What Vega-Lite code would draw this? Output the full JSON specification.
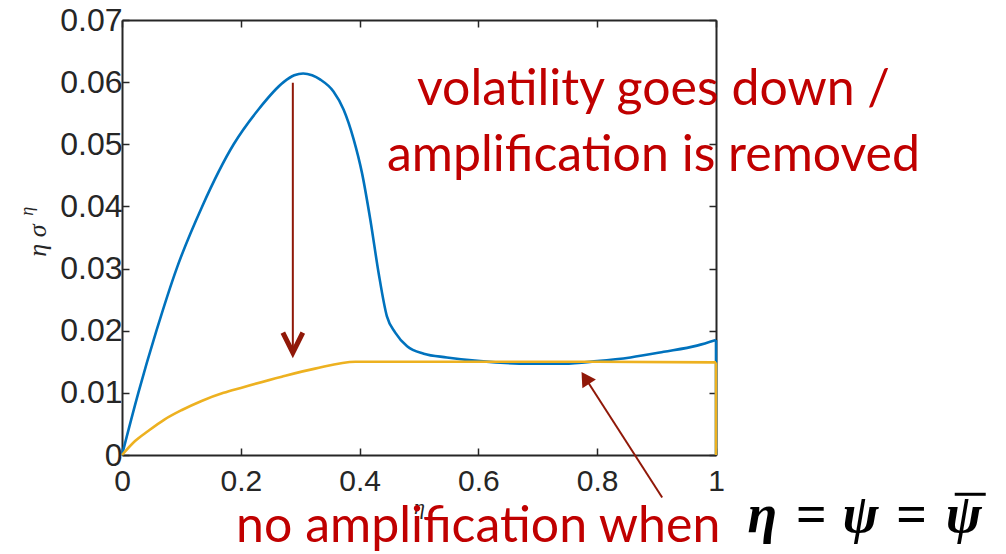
{
  "$schema": "https://vega.github.io/schema/vega-lite/v6.json",
  "width": 594,
  "height": 435,
  "autosize": "none",
  "padding": {"left": 122, "top": 20, "right": 290, "bottom": 99},
  "background": "white",
  "config": {"view": {"stroke": null}, "font": "Liberation Sans"},
  "datasets": {
    "blue": [
      {"x": 0, "y": 0},
      {"x": 0.0275, "y": 0.010},
      {"x": 0.058, "y": 0.020},
      {"x": 0.092, "y": 0.030},
      {"x": 0.135, "y": 0.040},
      {"x": 0.188, "y": 0.050},
      {"x": 0.2297, "y": 0.0556},
      {"x": 0.272, "y": 0.0600},
      {"x": 0.29, "y": 0.0611},
      {"x": 0.305, "y": 0.0614},
      {"x": 0.320, "y": 0.0611},
      {"x": 0.334, "y": 0.0604},
      {"x": 0.356, "y": 0.0585},
      {"x": 0.373, "y": 0.0556},
      {"x": 0.390, "y": 0.0508},
      {"x": 0.404, "y": 0.0454},
      {"x": 0.418, "y": 0.0379},
      {"x": 0.432, "y": 0.0293},
      {"x": 0.446, "y": 0.0223},
      {"x": 0.460, "y": 0.0197},
      {"x": 0.480, "y": 0.0175},
      {"x": 0.508, "y": 0.0163},
      {"x": 0.547, "y": 0.0157},
      {"x": 0.603, "y": 0.0151},
      {"x": 0.687, "y": 0.0147},
      {"x": 0.744, "y": 0.0147},
      {"x": 0.800, "y": 0.0151},
      {"x": 0.856, "y": 0.0157},
      {"x": 0.912, "y": 0.0166},
      {"x": 0.968, "y": 0.0176},
      {"x": 1.0, "y": 0.0185}
    ],
    "blueEnd": [{"x": 1.0, "y": 0.0185, "y2": 0}],
    "orange": [
      {"x": 0, "y": 0},
      {"x": 0.022, "y": 0.00225},
      {"x": 0.044, "y": 0.00386},
      {"x": 0.072, "y": 0.00574},
      {"x": 0.1, "y": 0.0072},
      {"x": 0.134, "y": 0.0087},
      {"x": 0.171, "y": 0.0100},
      {"x": 0.2, "y": 0.0108},
      {"x": 0.269, "y": 0.0126},
      {"x": 0.325, "y": 0.0139},
      {"x": 0.393, "y": 0.0150},
      {"x": 0.6, "y": 0.0150},
      {"x": 0.8, "y": 0.0150},
      {"x": 1.0, "y": 0.0149}
    ],
    "orangeEnd": [{"x": 1.0, "y": 0.0149, "y2": 0}],
    "arrow1": [{"x": 0.2876, "y": 0.0599, "y2": 0.0168}],
    "chevron": [
      {"i": 0, "x": 0.2708, "y": 0.01968},
      {"i": 1, "x": 0.2876, "y": 0.01646},
      {"i": 2, "x": 0.3044, "y": 0.01968}
    ],
    "arrow2": [{"x": 0.9094, "y": -0.00685, "x2": 0.78, "y2": 0.0124}],
    "head2": [{"x": 0.78, "y": 0.0124}],
    "notesTop": [
      {"label": "volatility goes down /", "x": 0.8947, "y": 0.05638},
      {"label": "amplification is removed", "x": 0.8947, "y": 0.04577}
    ],
    "noteBottom": [{"label": "no amplification when", "x": 0.1921, "y": -0.01399}],
    "formula": [
      {"label": "η", "x": 1.0531, "y": -0.01243},
      {"label": "=", "x": 1.134, "y": -0.01243},
      {"label": "ψ", "x": 1.2131, "y": -0.01243},
      {"label": "=", "x": 1.3024, "y": -0.01243},
      {"label": "ψ", "x": 1.3867, "y": -0.01243}
    ],
    "bar": [{"x": 1.4019, "x2": 1.4541, "y": -0.00632}],
    "ylab": [{"label": "η σ", "x": -0.1415, "y": 0.0345}],
    "ysup": [{"label": "η", "x": -0.1584, "y": 0.0392}]
  },
  "encoding": {
    "x": {"field": "x", "type": "quantitative", "scale": {"domain": [0, 1], "nice": false, "zero": false}, "axis": null},
    "y": {"field": "y", "type": "quantitative", "scale": {"domain": [0, 0.07], "nice": false, "zero": false}, "axis": null}
  },
  "layer": [
    {
      "data": {"name": "blue"},
      "mark": {"type": "line", "color": "#0072BD", "strokeWidth": 2.6, "interpolate": "monotone"},
      "encoding": {
        "x": {"field": "x", "type": "quantitative", "scale": {"domain": [0, 1], "nice": false, "zero": false},
          "axis": {"orient": "bottom", "values": [0, 0.2, 0.4, 0.6, 0.8, 1], "format": "~g", "title": "η",
            "grid": false, "tickSize": -7, "tickWidth": 1.5, "tickColor": "#262626", "domainColor": "#262626", "domainWidth": 2,
            "labelFont": "Liberation Sans", "labelFontSize": 30, "labelColor": "#262626", "labelPadding": 18, "labelFlush": false,
            "titleFont": "Liberation Serif", "titleFontStyle": "italic", "titleFontWeight": "normal", "titleFontSize": 22,
            "titleColor": "#262626", "titlePadding": 0}},
        "y": {"field": "y", "type": "quantitative", "scale": {"domain": [0, 0.07], "nice": false, "zero": false},
          "axis": {"orient": "left", "values": [0, 0.01, 0.02, 0.03, 0.04, 0.05, 0.06, 0.07], "format": "~g", "title": null,
            "grid": false, "tickSize": -7, "tickWidth": 1.5, "tickColor": "#262626", "domainColor": "#262626", "domainWidth": 2,
            "labelFont": "Liberation Sans", "labelFontSize": 32, "labelColor": "#262626", "labelPadding": 7, "labelFlush": false}}
      }
    },
    {
      "data": {"name": "blueEnd"},
      "mark": {"type": "rule", "color": "#0072BD", "strokeWidth": 2.6},
      "encoding": {"y2": {"field": "y2"}}
    },
    {
      "data": {"name": "orange"},
      "mark": {"type": "line", "color": "#EDB120", "strokeWidth": 2.6, "interpolate": "monotone"},
      "encoding": {
        "x": {"field": "x", "type": "quantitative", "scale": {"domain": [0, 1], "nice": false, "zero": false},
          "axis": {"orient": "top", "values": [0, 0.2, 0.4, 0.6, 0.8, 1], "labels": false, "title": null,
            "grid": false, "tickSize": -7, "tickWidth": 1.5, "tickColor": "#262626", "domainColor": "#262626", "domainWidth": 2}},
        "y": {"field": "y", "type": "quantitative", "scale": {"domain": [0, 0.07], "nice": false, "zero": false},
          "axis": {"orient": "right", "values": [0, 0.01, 0.02, 0.03, 0.04, 0.05, 0.06, 0.07], "labels": false, "title": null,
            "grid": false, "tickSize": -7, "tickWidth": 1.5, "tickColor": "#262626", "domainColor": "#262626", "domainWidth": 2}}
      }
    },
    {
      "data": {"name": "orangeEnd"},
      "mark": {"type": "rule", "color": "#EDB120", "strokeWidth": 2.6},
      "encoding": {"y2": {"field": "y2"}}
    },
    {
      "data": {"name": "arrow1"},
      "mark": {"type": "rule", "color": "#901808", "strokeWidth": 2},
      "encoding": {"y2": {"field": "y2"}}
    },
    {
      "data": {"name": "chevron"},
      "mark": {"type": "line", "color": "#901808", "strokeWidth": 5, "strokeJoin": "miter"},
      "encoding": {"order": {"field": "i", "type": "quantitative"}}
    },
    {
      "data": {"name": "arrow2"},
      "mark": {"type": "rule", "color": "#901808", "strokeWidth": 2},
      "encoding": {"x2": {"field": "x2"}, "y2": {"field": "y2"}}
    },
    {
      "data": {"name": "head2"},
      "mark": {"type": "point", "shape": "triangle-up", "filled": true, "color": "#901808", "opacity": 1, "size": 260, "angle": 327},
      "encoding": {}
    },
    {
      "data": {"name": "notesTop"},
      "mark": {"type": "text", "font": "Lato", "fontSize": 50, "color": "#C00000", "align": "center", "baseline": "alphabetic"},
      "encoding": {"text": {"field": "label"}}
    },
    {
      "data": {"name": "noteBottom"},
      "mark": {"type": "text", "font": "Lato", "fontSize": 50, "color": "#C00000", "align": "left", "baseline": "alphabetic"},
      "encoding": {"text": {"field": "label"}}
    },
    {
      "data": {"name": "formula"},
      "mark": {"type": "text", "font": "Liberation Serif", "fontSize": 54, "fontStyle": "italic", "fontWeight": "bold", "color": "black", "align": "left", "baseline": "alphabetic"},
      "encoding": {"text": {"field": "label"}}
    },
    {
      "data": {"name": "bar"},
      "mark": {"type": "rule", "color": "black", "strokeWidth": 3},
      "encoding": {"x2": {"field": "x2"}}
    },
    {
      "data": {"name": "ylab"},
      "mark": {"type": "text", "font": "Liberation Serif", "fontSize": 26, "fontStyle": "italic", "color": "#262626", "angle": 270, "align": "center", "baseline": "middle"},
      "encoding": {"text": {"field": "label"}}
    },
    {
      "data": {"name": "ysup"},
      "mark": {"type": "text", "font": "Liberation Serif", "fontSize": 18, "fontStyle": "italic", "color": "#262626", "angle": 270, "align": "center", "baseline": "middle"},
      "encoding": {"text": {"field": "label"}}
    }
  ],
  "resolve": {"axis": {"x": "independent", "y": "independent"}}
}
